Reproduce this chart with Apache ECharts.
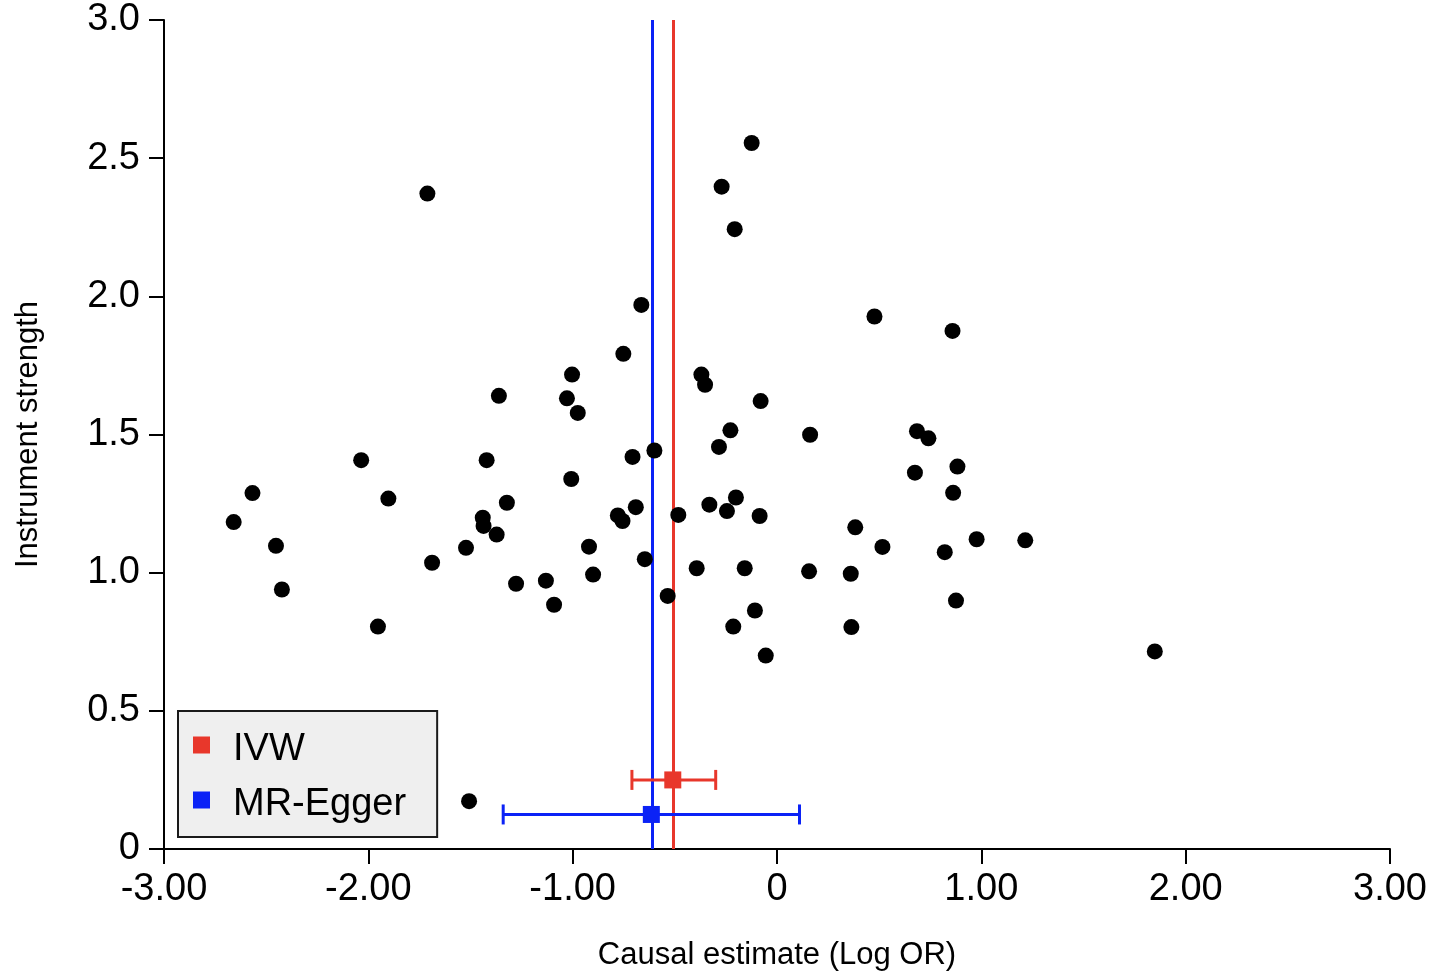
<!DOCTYPE html>
<html>
<head>
<meta charset="utf-8">
<title>Instrument strength vs causal estimate</title>
<script src="https://cdn.jsdelivr.net/npm/echarts@6/dist/echarts.min.js"></script>
<style>
  html, body { margin: 0; padding: 0; background: #ffffff; }
  #chart { width: 1434px; height: 976px; }
</style>
</head>
<body>
<div id="chart"></div>
<script>
// Per-variant causal estimates (log OR) and their instrument strength
const causalEstimates = [
  -2.659, -2.567, -2.452, -2.423, -2.035, -1.953, -1.902, -1.711, -1.688, -1.522,
  -1.507, -1.440, -1.436, -1.421, -1.372, -1.361, -1.322, -1.277, -1.131, -1.091,
  -1.028, -1.003, -1.007, -0.975, -0.920, -0.900, -0.779, -0.752, -0.756, -0.707,
  -0.691, -0.664, -0.647, -0.600, -0.535, -0.483, -0.393, -0.370, -0.352, -0.331,
  -0.284, -0.271, -0.245, -0.228, -0.207, -0.201, -0.214, -0.158, -0.124, -0.108,
  -0.085, -0.080, -0.055, 0.157, 0.162, 0.361, 0.364, 0.383, 0.477, 0.516,
  0.675, 0.685, 0.741, 0.821, 0.859, 0.862, 0.876, 0.883, 0.977, 1.215,
  1.849
];
const instrumentStrength = [
  1.183, 1.288, 1.097, 0.939, 1.407, 0.805, 1.268, 2.372, 1.036, 1.090,
  0.173, 1.199, 1.169, 1.407, 1.138, 1.640, 1.253, 0.960, 0.971, 0.884,
  1.631, 1.717, 1.339, 1.578, 1.094, 0.993, 1.207, 1.792, 1.187, 1.419,
  1.237, 1.969, 1.049, 1.442, 0.916, 1.209, 1.016, 1.717, 1.680, 1.246,
  1.455, 2.397, 1.223, 1.515, 2.243, 1.272, 0.805, 1.016, 2.555, 0.863,
  1.205, 1.621, 0.700, 1.005, 1.499, 0.996, 0.803, 1.164, 1.927, 1.093,
  1.362, 1.512, 1.486, 1.074, 1.875, 1.289, 0.899, 1.384, 1.121, 1.117,
  0.715
];

// Pooled estimates: [estimate, plotted height, lower CI, upper CI]
const methodNames = ['IVW', 'MR-Egger'];
const ivwEstimate = [-0.51, 0.25, -0.71, -0.30];
const eggerEstimate = [-0.615, 0.125, -1.34, 0.11];

// Axis ticks
const xTickValues = [-3, -2, -1, 0, 1, 2, 3];
const xTickLabels = ['-3.00', '-2.00', '-1.00', '0', '1.00', '2.00', '3.00'];
const yTickValues = [0, 0.5, 1, 1.5, 2, 2.5, 3];
const yTickLabels = ['0', '0.5', '1.0', '1.5', '2.0', '2.5', '3.0'];

const RED = '#e8372b';
const BLUE = '#0b22f6';
const FONT = '"Liberation Sans", Arial, Helvetica, sans-serif';

function lookupLabel(values, labels) {
  return function (v) {
    for (let i = 0; i < values.length; i++) {
      if (Math.abs(values[i] - v) < 1e-9) return labels[i];
    }
    return '';
  };
}

// Horizontal confidence interval with end caps and a square at the estimate
function renderInterval(color) {
  return function (params, api) {
    const est = api.value(0), h = api.value(1), lo = api.value(2), hi = api.value(3);
    const pLo = api.coord([lo, h]);
    const pHi = api.coord([hi, h]);
    const pEst = api.coord([est, h]);
    const cap = 10, sq = 17;
    const lineStyle = { stroke: color, lineWidth: 3 };
    return {
      type: 'group',
      children: [
        { type: 'line', shape: { x1: pLo[0], y1: pLo[1], x2: pHi[0], y2: pHi[1] }, style: lineStyle },
        { type: 'line', shape: { x1: pLo[0], y1: pLo[1] - cap, x2: pLo[0], y2: pLo[1] + cap }, style: lineStyle },
        { type: 'line', shape: { x1: pHi[0], y1: pHi[1] - cap, x2: pHi[0], y2: pHi[1] + cap }, style: lineStyle },
        { type: 'rect', shape: { x: pEst[0] - sq / 2, y: pEst[1] - sq / 2, width: sq, height: sq }, style: { fill: color } }
      ]
    };
  };
}

function estimateSeries(name, row, color) {
  return {
    name: name,
    type: 'custom',
    z: 3,
    itemStyle: { color: color },
    encode: { x: [0, 2, 3], y: 1 },
    data: [row],
    renderItem: renderInterval(color),
    markLine: {
      silent: true,
      symbol: 'none',
      label: { show: false },
      lineStyle: { color: color, width: 3, type: 'solid' },
      data: [{ xAxis: row[0] }],
      z: 1
    }
  };
}

const chart = echarts.init(document.getElementById('chart'), null, { renderer: 'canvas' });

chart.setOption({
  backgroundColor: '#ffffff',
  animation: false,
  textStyle: { fontFamily: FONT },
  grid: { left: 164, right: 44, top: 20, bottom: 124, containLabel: false },
  legend: {
    orient: 'vertical',
    left: 178,
    top: 711,
    padding: [15, 31, 13, 15],
    itemGap: 12,
    itemWidth: 17,
    itemHeight: 17,
    selectedMode: false,
    backgroundColor: '#efefef',
    borderColor: '#1a1a1a',
    borderWidth: 2,
    formatter: function (name) { return '{s| }{t|' + name + '}'; },
    textStyle: {
      color: '#000', fontFamily: FONT, fontSize: 38, padding: [0, 0, 0, 8],
      rich: {
        s: { fontSize: 38, lineHeight: 48, width: 10 },
        t: { fontSize: 38, lineHeight: 40, verticalAlign: 'bottom', color: '#000', fontFamily: FONT }
      }
    },
    data: [
      { name: methodNames[0], icon: 'rect', itemStyle: { color: RED } },
      { name: methodNames[1], icon: 'rect', itemStyle: { color: BLUE } }
    ]
  },
  xAxis: {
    type: 'value',
    min: -3, max: 3, interval: 1,
    name: 'Causal estimate (Log OR)',
    nameLocation: 'middle',
    nameGap: 91,
    nameTextStyle: { fontSize: 31, color: '#000', fontFamily: FONT },
    axisLine: { show: true, onZero: false, lineStyle: { color: '#000', width: 2 } },
    axisTick: { show: true, inside: false, length: 15, lineStyle: { color: '#000', width: 2 } },
    axisLabel: { fontSize: 38, color: '#000', margin: 22, fontFamily: FONT,
      formatter: lookupLabel(xTickValues, xTickLabels) },
    splitLine: { show: false }
  },
  yAxis: {
    type: 'value',
    min: 0, max: 3, interval: 0.5,
    name: 'Instrument strength',
    nameLocation: 'middle',
    nameGap: 120,
    nameTextStyle: { fontSize: 31, color: '#000', fontFamily: FONT },
    axisLine: { show: true, onZero: false, lineStyle: { color: '#000', width: 2 } },
    axisTick: { show: true, inside: false, length: 15, lineStyle: { color: '#000', width: 2 } },
    axisLabel: { fontSize: 38, color: '#000', margin: 24, fontFamily: FONT,
      formatter: lookupLabel(yTickValues, yTickLabels) },
    splitLine: { show: false }
  },
  series: [
    estimateSeries(methodNames[0], ivwEstimate, RED),
    estimateSeries(methodNames[1], eggerEstimate, BLUE),
    {
      name: 'Variants',
      type: 'scatter',
      z: 5,
      symbol: 'circle',
      symbolSize: 16,
      itemStyle: { color: '#000', opacity: 1 },
      data: causalEstimates.map((x, i) => [x, instrumentStrength[i]])
    }
  ]
});
</script>
</body>
</html>
